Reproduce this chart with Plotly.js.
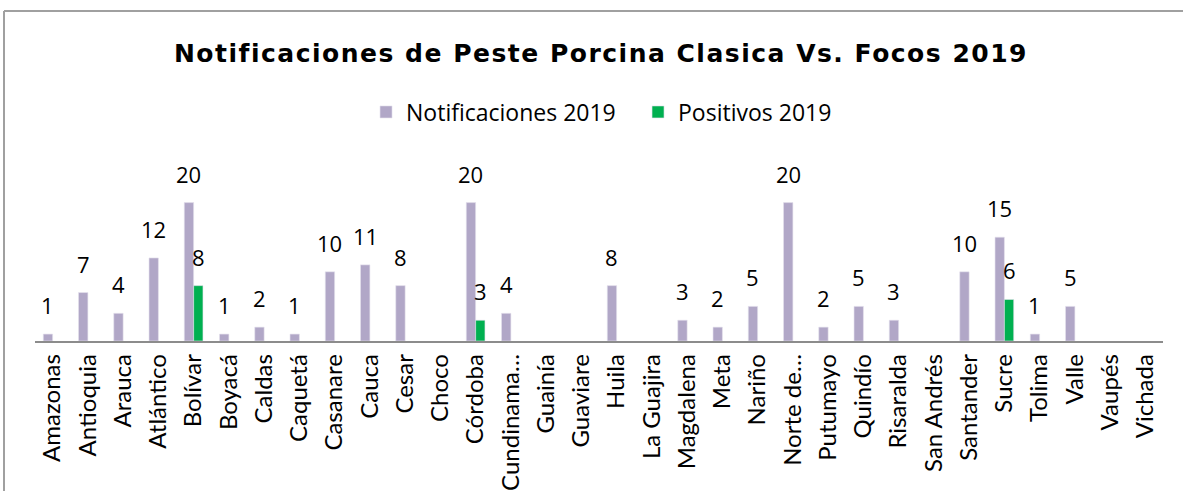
<!DOCTYPE html>
<html>
<head>
<meta charset="utf-8">
<script src="https://cdn.plot.ly/plotly-3.0.1.min.js"></script>
<style>
  html, body { margin: 0; padding: 0; background: #ffffff; overflow: hidden; }
  #chart { position: absolute; left: 0; top: 0; width: 1183px; height: 491px; }
  #chart .gtitle { letter-spacing: 1.5px; }
</style>
</head>
<body>
<div id="chart"></div>
<script>
const categories = ["Amazonas","Antioquia","Arauca","Atlántico","Bolívar","Boyacá","Caldas","Caquetá",
  "Casanare","Cauca","Cesar","Choco","Córdoba","Cundinama…","Guainía","Guaviare","Huila","La Guajira",
  "Magdalena","Meta","Nariño","Norte de…","Putumayo","Quindío","Risaralda","San Andrés","Santander",
  "Sucre","Tolima","Valle","Vaupés","Vichada"];
const notificaciones2019 = [1,7,4,12,20,1,2,1,10,11,8,null,20,4,null,null,8,null,3,2,5,20,2,5,3,null,10,15,1,5,null,null];
const positivos2019 = [null,null,null,null,8,null,null,null,null,null,null,null,3,null,null,null,null,null,
  null,null,null,null,null,null,null,null,null,6,null,null,null,null];
const seriesNames = ["Notificaciones 2019","Positivos 2019"];
const titleText = "Notificaciones de Peste Porcina Clasica Vs. Focos 2019";

const colors = ["#B1A7C7","#00B050"];
const W = 1183, H = 491;
const margin = {l: 35, r: 20, t: 168, b: 150};
const bargap = 0.47;
const plotW = W - margin.l - margin.r;
const plotH = H - margin.t - margin.b;
const barPx = plotW / categories.length * (1 - bargap) / 2;

const traces = [notificaciones2019, positivos2019].map((vals, i) => ({
  type: "bar", name: seriesNames[i], x: categories, y: vals,
  marker: {color: colors[i], line: {color: "#E4E0EC", width: 0.6}},
  hoverinfo: "x+y"
}));

const annotations = [];
[notificaciones2019, positivos2019].forEach((vals, i) => {
  vals.forEach((v, k) => {
    if (v === null) return;
    annotations.push({
      x: categories[k], y: v, xref: "x", yref: "y", text: String(v), showarrow: false,
      xshift: (i === 0 ? -1 : 1) * barPx / 2, yshift: 12, yanchor: "bottom", xanchor: "center",
      font: {family: "Open Sans, sans-serif", size: 22, color: "#000000"}
    });
  });
});

// outer chart frame (left and top edges visible in the crop)
const fx = (px) => (px - margin.l) / plotW;
const fy = (py) => (H - margin.b - py) / plotH;
const shapes = [
  {type: "line", xref: "paper", yref: "paper", x0: fx(4), x1: fx(4), y0: fy(11), y1: fy(H + 5),
   line: {color: "#a0a0a0", width: 2}},
  {type: "line", xref: "paper", yref: "paper", x0: fx(4), x1: fx(W + 5), y0: fy(11), y1: fy(11),
   line: {color: "#a0a0a0", width: 2}}
];

const layout = {
  width: W, height: H, margin: margin,
  paper_bgcolor: "#ffffff", plot_bgcolor: "rgba(0,0,0,0)",
  barmode: "group", bargap: bargap, bargroupgap: 0,
  title: {text: "<b>" + titleText + "</b>", x: 0.508, xanchor: "center", y: 1 - 53/491, yref: "container", yanchor: "middle",
          font: {family: "DejaVu Sans, sans-serif", size: 25, color: "#000000"}},
  showlegend: true,
  legend: {orientation: "h", x: 0.5346, xanchor: "center", y: 1 - 112/491, yref: "container", yanchor: "middle",
           font: {family: "Open Sans, sans-serif", size: 23, color: "#000000"}, itemwidth: 30,
           entrywidth: 227, entrywidthmode: "pixels", traceorder: "normal"},
  xaxis: {type: "category", showline: true, linecolor: "#8c8c8c", linewidth: 1.5, ticks: "", showgrid: false,
          tickangle: -90, ticklabelstandoff: 2,
          tickfont: {family: "Lato, sans-serif", size: 24, color: "#000000"}},
  yaxis: {range: [0, 25], visible: false, showgrid: false, zeroline: false},
  shapes: shapes,
  annotations: annotations
};

Plotly.newPlot("chart", traces, layout, {displayModeBar: false, staticPlot: true});
</script>
</body>
</html>
